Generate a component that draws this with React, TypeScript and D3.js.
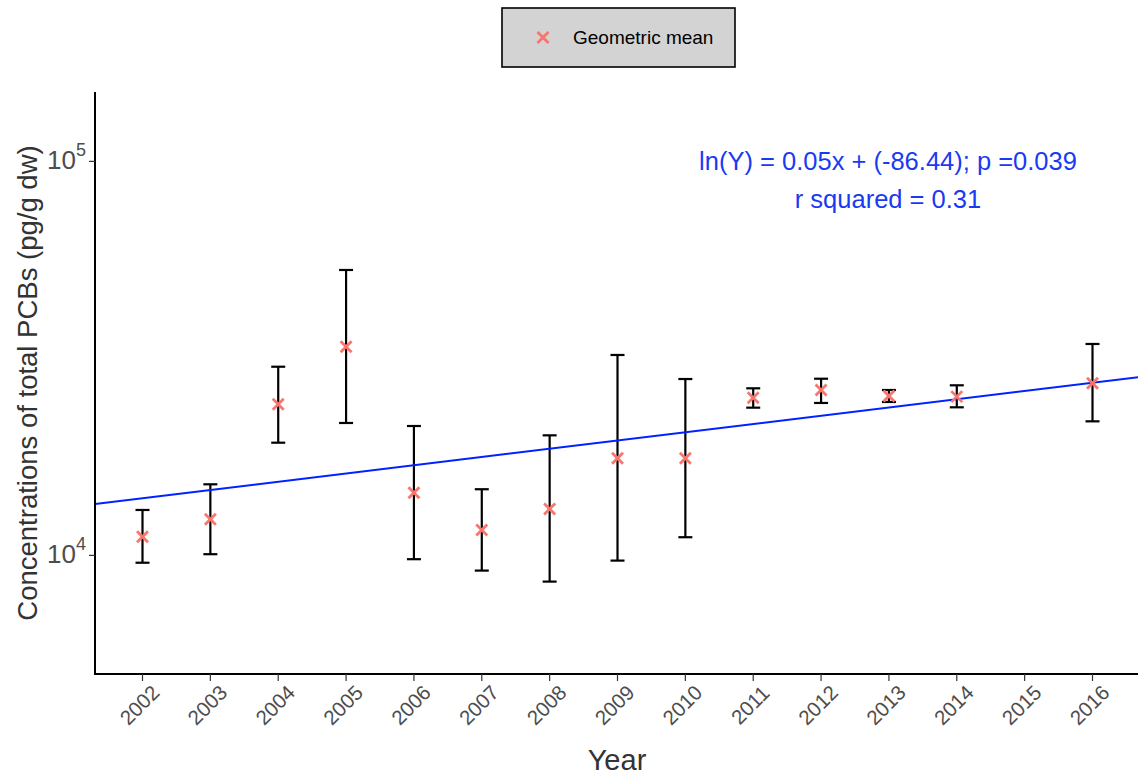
import React from 'react';
import * as d3 from 'd3';

const years = [2002, 2003, 2004, 2005, 2006, 2007, 2008, 2009, 2010, 2011, 2012, 2013, 2014, 2016];
const geoMean = [11150, 12350, 24190, 33860, 14420, 11600, 13120, 17640, 17640, 25140, 26290, 25390, 25290, 27340];
const upper = [13040, 15150, 30120, 53010, 21300, 14720, 20170, 32260, 28030, 26550, 28080, 26290, 27020, 34400];
const lower = [9580, 10070, 19320, 21680, 9780, 9150, 8580, 9700, 11120, 23710, 24370, 24510, 23760, 21890];
const tickYears = d3.range(2002, 2017);
const yTicks = [4, 5];
// fitted trend at its two ends
const trendYears = [2002, 2016];
const trendValues = [13970, 27420];

const W = 1138, H = 775;
const left = 95, top = 92, bottom = 674, right = 1138;
const font = 'Liberation Sans, Arial, Helvetica, sans-serif';
const red = '#F8766D';

const Cross = ({ x, y, r }) => (
  <g stroke={red} strokeWidth={2.8}>
    <line x1={x - r} y1={y - r} x2={x + r} y2={y + r} />
    <line x1={x - r} y1={y + r} x2={x + r} y2={y - r} />
  </g>
);

export default function App() {
  const x = d3.scaleLinear().domain([2001.3, 2016.7]).range([left, 1140]);
  const y = d3.scaleLog().domain([5000, 150000]).range([bottom, top]);

  const slope = (Math.log(trendValues[1]) - Math.log(trendValues[0])) / (trendYears[1] - trendYears[0]);
  const trendAt = t => trendValues[0] * Math.exp(slope * (t - trendYears[0]));
  const trendLine = d3.line().x(d => x(d)).y(d => y(trendAt(d)));
  const [d0, d1] = x.domain();

  return (
    <svg width={W} height={H} style={{ position: 'absolute', left: 0, top: 0, background: '#fff' }} fontFamily={font}>
      <defs>
        <clipPath id="panel"><rect x={left} y={top} width={right - left} height={bottom - top} /></clipPath>
      </defs>

      {/* legend */}
      <rect x={502} y={8} width={233} height={59} fill="#d3d3d3" stroke="#000" strokeWidth={1.6} />
      <Cross x={543} y={37.5} r={5.5} />
      <text x={573} y={37.5} dy="0.35em" fontSize={19} fill="#000">Geometric mean</text>

      {/* error bars */}
      {years.map((yr, i) => (
        <g key={yr} stroke="#000" strokeWidth={2.2}>
          <line x1={x(yr)} x2={x(yr)} y1={y(upper[i])} y2={y(lower[i])} />
          <line x1={x(yr) - 7} x2={x(yr) + 7} y1={y(upper[i])} y2={y(upper[i])} />
          <line x1={x(yr) - 7} x2={x(yr) + 7} y1={y(lower[i])} y2={y(lower[i])} />
        </g>
      ))}

      {/* trend */}
      <path d={trendLine([d0, d1])} fill="none" stroke="#0022ff" strokeWidth={2} clipPath="url(#panel)" />

      {years.map((yr, i) => <Cross key={yr} x={x(yr)} y={y(geoMean[i])} r={5.5} />)}

      {/* axes */}
      <line x1={left} x2={left} y1={top} y2={bottom + 1} stroke="#000" strokeWidth={2} />
      <line x1={left - 1} x2={right} y1={bottom} y2={bottom} stroke="#000" strokeWidth={2} />
      {yTicks.map(p => (
        <g key={p}>
          <line x1={left - 6} x2={left} y1={y(10 ** p)} y2={y(10 ** p)} stroke="#333" strokeWidth={1.2} />
          <text x={86} y={y(10 ** p)} dy="0.45em" textAnchor="end" fill="#4d4d4d">
            <tspan fontSize={26}>10</tspan>
            <tspan fontSize={18} dy={-13}>{p}</tspan>
          </text>
        </g>
      ))}
      {tickYears.map(t => (
        <g key={t}>
          <line x1={x(t)} x2={x(t)} y1={bottom} y2={bottom + 7} stroke="#333" strokeWidth={1.2} />
          <text transform={`translate(${x(t) - 3},${705}) rotate(-45)`} textAnchor="middle" dy="0.35em"
            fontSize={20.5} fill="#4d4d4d">{t}</text>
        </g>
      ))}

      {/* titles */}
      <text x={617} y={770} textAnchor="middle" fontSize={29} fill="#333">Year</text>
      <text transform={`translate(27,${383}) rotate(-90)`} textAnchor="middle" dy="0.35em"
        fontSize={27.5} fill="#333">Concentrations of total PCBs (pg/g dw)</text>

      {/* fit annotation */}
      <g fill="#1a3af2" fontSize={25.5} textAnchor="middle">
        <text x={888} y={170}>ln(Y) = 0.05x + (-86.44); p =0.039</text>
        <text x={888} y={208}>r squared = 0.31</text>
      </g>
    </svg>
  );
}
